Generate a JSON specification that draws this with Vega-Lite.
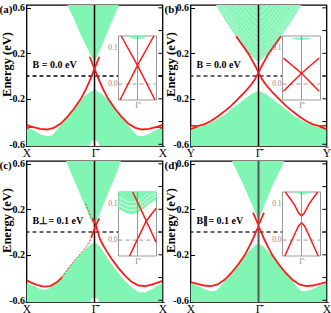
{
"$schema": "https://vega.github.io/schema/vega-lite/v6.json",
"padding": {"left": -1.5, "top": 2, "right": 0, "bottom": 0},
"config": {
  "view": {"stroke": "black", "strokeWidth": 1.3},
  "axis": {"labelFont": "Liberation Serif", "labelFontWeight": "bold", "labelFontSize": 10, "labelColor": "black", "titleFont": "Liberation Serif", "titleFontWeight": "bold", "titleFontSize": 12.5, "titleColor": "black", "tickColor": "black", "grid": false},
  "axisX": {"labelFontWeight": "normal", "labelFontSize": 11.5, "labelPadding": 1, "labelFlush": false, "labelOverlap": false, "domain": false, "ticks": false},
  "axisY": {"labelOverlap": false, "domain": false, "tickSize": -4, "labelPadding": 6}
},
"datasets": {
  "cb": [
    {"p":"a","e":0.13,"kl":0,"kr":0},{"p":"a","e":0.16,"kl":-0.035,"kr":0.03},{"p":"a","e":0.2,"kl":-0.07,"kr":0.06},{"p":"a","e":0.25,"kl":-0.11,"kr":0.095},{"p":"a","e":0.3,"kl":-0.15,"kr":0.13},{"p":"a","e":0.4,"kl":-0.23,"kr":0.2},{"p":"a","e":0.5,"kl":-0.3,"kr":0.27},{"p":"a","e":0.625,"kl":-0.4,"kr":0.36},
    {"p":"b","e":0.125,"kl":0,"kr":0},{"p":"b","e":0.15,"kl":-0.05,"kr":0.05},{"p":"b","e":0.2,"kl":-0.14,"kr":0.14},{"p":"b","e":0.25,"kl":-0.21,"kr":0.21},{"p":"b","e":0.3,"kl":-0.27,"kr":0.27},{"p":"b","e":0.4,"kl":-0.39,"kr":0.39},{"p":"b","e":0.5,"kl":-0.5,"kr":0.5},{"p":"b","e":0.625,"kl":-0.63,"kr":0.63},
    {"p":"c","e":0.05,"kl":0,"kr":0},{"p":"c","e":0.1,"kl":-0.05,"kr":0.04},{"p":"c","e":0.2,"kl":-0.12,"kr":0.1},{"p":"c","e":0.3,"kl":-0.19,"kr":0.17},{"p":"c","e":0.4,"kl":-0.26,"kr":0.24},{"p":"c","e":0.5,"kl":-0.33,"kr":0.31},{"p":"c","e":0.625,"kl":-0.42,"kr":0.39},
    {"p":"d","e":0.11,"kl":0,"kr":0},{"p":"d","e":0.15,"kl":-0.03,"kr":0.03},{"p":"d","e":0.2,"kl":-0.065,"kr":0.06},{"p":"d","e":0.3,"kl":-0.14,"kr":0.13},{"p":"d","e":0.4,"kl":-0.21,"kr":0.2},{"p":"d","e":0.5,"kl":-0.29,"kr":0.28},{"p":"d","e":0.625,"kl":-0.39,"kr":0.38}
  ],
  "cbs": [
    {"s":"w1","k":-0.6,"e":0.62},{"s":"w1","k":-0.3,"e":0.35},{"s":"w1","k":-0.12,"e":0.21},{"s":"w1","k":0,"e":0.15},{"s":"w1","k":0.12,"e":0.21},{"s":"w1","k":0.3,"e":0.35},{"s":"w1","k":0.6,"e":0.62},
    {"s":"w2","k":-0.6,"e":0.65},{"s":"w2","k":-0.3,"e":0.38},{"s":"w2","k":-0.12,"e":0.24},{"s":"w2","k":0,"e":0.18},{"s":"w2","k":0.12,"e":0.24},{"s":"w2","k":0.3,"e":0.38},{"s":"w2","k":0.6,"e":0.65},
    {"s":"w3","k":-0.6,"e":0.68},{"s":"w3","k":-0.3,"e":0.41},{"s":"w3","k":-0.12,"e":0.27},{"s":"w3","k":0,"e":0.21},{"s":"w3","k":0.12,"e":0.27},{"s":"w3","k":0.3,"e":0.41},{"s":"w3","k":0.6,"e":0.68},
    {"s":"w4","k":-0.6,"e":0.71},{"s":"w4","k":-0.3,"e":0.44},{"s":"w4","k":-0.12,"e":0.3},{"s":"w4","k":0,"e":0.24},{"s":"w4","k":0.12,"e":0.3},{"s":"w4","k":0.3,"e":0.44},{"s":"w4","k":0.6,"e":0.71},
    {"s":"w5","k":-0.6,"e":0.75},{"s":"w5","k":-0.3,"e":0.48},{"s":"w5","k":-0.12,"e":0.34},{"s":"w5","k":0,"e":0.28},{"s":"w5","k":0.12,"e":0.34},{"s":"w5","k":0.3,"e":0.48},{"s":"w5","k":0.6,"e":0.75},
    {"s":"w6","k":-0.6,"e":0.79},{"s":"w6","k":-0.3,"e":0.52},{"s":"w6","k":-0.12,"e":0.38},{"s":"w6","k":0,"e":0.32},{"s":"w6","k":0.12,"e":0.38},{"s":"w6","k":0.3,"e":0.52},{"s":"w6","k":0.6,"e":0.79},
    {"s":"w7","k":-0.6,"e":0.83},{"s":"w7","k":-0.3,"e":0.56},{"s":"w7","k":-0.12,"e":0.42},{"s":"w7","k":0,"e":0.36},{"s":"w7","k":0.12,"e":0.42},{"s":"w7","k":0.3,"e":0.56},{"s":"w7","k":0.6,"e":0.83},
    {"s":"w8","k":-0.6,"e":0.87},{"s":"w8","k":-0.3,"e":0.6},{"s":"w8","k":-0.12,"e":0.46},{"s":"w8","k":0,"e":0.4},{"s":"w8","k":0.12,"e":0.46},{"s":"w8","k":0.3,"e":0.6},{"s":"w8","k":0.6,"e":0.87},
    {"s":"w9","k":-0.6,"e":0.92},{"s":"w9","k":-0.3,"e":0.65},{"s":"w9","k":-0.12,"e":0.51},{"s":"w9","k":0,"e":0.45},{"s":"w9","k":0.12,"e":0.51},{"s":"w9","k":0.3,"e":0.65},{"s":"w9","k":0.6,"e":0.92},
    {"s":"w10","k":-0.6,"e":0.97},{"s":"w10","k":-0.3,"e":0.7},{"s":"w10","k":-0.12,"e":0.56},{"s":"w10","k":0,"e":0.5},{"s":"w10","k":0.12,"e":0.56},{"s":"w10","k":0.3,"e":0.7},{"s":"w10","k":0.6,"e":0.97},
    {"s":"w11","k":-0.6,"e":1.02},{"s":"w11","k":-0.3,"e":0.75},{"s":"w11","k":-0.12,"e":0.61},{"s":"w11","k":0,"e":0.55},{"s":"w11","k":0.12,"e":0.61},{"s":"w11","k":0.3,"e":0.75},{"s":"w11","k":0.6,"e":1.02}
  ],
  "vb": [
    {"p":"a","k":-1,"t":-0.45},{"p":"a","k":-0.9,"t":-0.475},{"p":"a","k":-0.8,"t":-0.51},{"p":"a","k":-0.7,"t":-0.53},{"p":"a","k":-0.62,"t":-0.52},{"p":"a","k":-0.55,"t":-0.47},{"p":"a","k":-0.45,"t":-0.4},{"p":"a","k":-0.35,"t":-0.33},{"p":"a","k":-0.25,"t":-0.25},{"p":"a","k":-0.15,"t":-0.18},{"p":"a","k":-0.07,"t":-0.14},{"p":"a","k":0,"t":-0.12},{"p":"a","k":0.07,"t":-0.14},{"p":"a","k":0.15,"t":-0.18},{"p":"a","k":0.25,"t":-0.25},{"p":"a","k":0.35,"t":-0.33},{"p":"a","k":0.45,"t":-0.4},{"p":"a","k":0.55,"t":-0.47},{"p":"a","k":0.62,"t":-0.52},{"p":"a","k":0.7,"t":-0.53},{"p":"a","k":0.8,"t":-0.51},{"p":"a","k":0.9,"t":-0.475},{"p":"a","k":1,"t":-0.45},
    {"p":"b","k":-1,"t":-0.45},{"p":"b","k":-0.9,"t":-0.45},{"p":"b","k":-0.8,"t":-0.435},{"p":"b","k":-0.7,"t":-0.41},{"p":"b","k":-0.6,"t":-0.375},{"p":"b","k":-0.5,"t":-0.34},{"p":"b","k":-0.4,"t":-0.29},{"p":"b","k":-0.3,"t":-0.245},{"p":"b","k":-0.2,"t":-0.2},{"p":"b","k":-0.1,"t":-0.155},{"p":"b","k":0,"t":-0.13},{"p":"b","k":0.1,"t":-0.155},{"p":"b","k":0.2,"t":-0.2},{"p":"b","k":0.3,"t":-0.245},{"p":"b","k":0.4,"t":-0.29},{"p":"b","k":0.5,"t":-0.34},{"p":"b","k":0.6,"t":-0.375},{"p":"b","k":0.7,"t":-0.41},{"p":"b","k":0.8,"t":-0.435},{"p":"b","k":0.9,"t":-0.45},{"p":"b","k":1,"t":-0.45},
    {"p":"c","k":-1,"t":-0.45},{"p":"c","k":-0.9,"t":-0.47},{"p":"c","k":-0.8,"t":-0.5},{"p":"c","k":-0.72,"t":-0.51},{"p":"c","k":-0.65,"t":-0.49},{"p":"c","k":-0.55,"t":-0.43},{"p":"c","k":-0.45,"t":-0.36},{"p":"c","k":-0.35,"t":-0.29},{"p":"c","k":-0.25,"t":-0.22},{"p":"c","k":-0.15,"t":-0.16},{"p":"c","k":-0.07,"t":-0.115},{"p":"c","k":0,"t":-0.09},{"p":"c","k":0.07,"t":-0.12},{"p":"c","k":0.15,"t":-0.19},{"p":"c","k":0.25,"t":-0.28},{"p":"c","k":0.35,"t":-0.36},{"p":"c","k":0.45,"t":-0.43},{"p":"c","k":0.55,"t":-0.49},{"p":"c","k":0.65,"t":-0.53},{"p":"c","k":0.75,"t":-0.53},{"p":"c","k":0.85,"t":-0.5},{"p":"c","k":0.93,"t":-0.47},{"p":"c","k":1,"t":-0.45},
    {"p":"d","k":-1,"t":-0.45},{"p":"d","k":-0.9,"t":-0.47},{"p":"d","k":-0.8,"t":-0.5},{"p":"d","k":-0.7,"t":-0.52},{"p":"d","k":-0.62,"t":-0.515},{"p":"d","k":-0.55,"t":-0.47},{"p":"d","k":-0.45,"t":-0.39},{"p":"d","k":-0.35,"t":-0.32},{"p":"d","k":-0.25,"t":-0.245},{"p":"d","k":-0.15,"t":-0.175},{"p":"d","k":-0.07,"t":-0.125},{"p":"d","k":0,"t":-0.1},{"p":"d","k":0.07,"t":-0.125},{"p":"d","k":0.15,"t":-0.175},{"p":"d","k":0.25,"t":-0.245},{"p":"d","k":0.35,"t":-0.32},{"p":"d","k":0.45,"t":-0.39},{"p":"d","k":0.55,"t":-0.47},{"p":"d","k":0.62,"t":-0.515},{"p":"d","k":0.7,"t":-0.52},{"p":"d","k":0.8,"t":-0.5},{"p":"d","k":0.9,"t":-0.47},{"p":"d","k":1,"t":-0.45}
  ],
  "wb": [
    {"p":"a","k":-0.08,"t":-0.615},{"p":"a","k":-0.05,"t":-0.575},{"p":"a","k":0,"t":-0.56},{"p":"a","k":0.05,"t":-0.575},{"p":"a","k":0.08,"t":-0.615},
    {"p":"c","k":-0.07,"t":-0.615},{"p":"c","k":-0.04,"t":-0.585},{"p":"c","k":0,"t":-0.575},{"p":"c","k":0.04,"t":-0.585},{"p":"c","k":0.07,"t":-0.615}
  ],
  "red": [
    {"p":"a","s":"a1","k":-1,"e":-0.43},{"p":"a","s":"a1","k":-0.9,"e":-0.45},{"p":"a","s":"a1","k":-0.8,"e":-0.465},{"p":"a","s":"a1","k":-0.7,"e":-0.47},{"p":"a","s":"a1","k":-0.6,"e":-0.455},{"p":"a","s":"a1","k":-0.5,"e":-0.42},{"p":"a","s":"a1","k":-0.4,"e":-0.36},{"p":"a","s":"a1","k":-0.3,"e":-0.285},{"p":"a","s":"a1","k":-0.2,"e":-0.2},{"p":"a","s":"a1","k":-0.13,"e":-0.12},{"p":"a","s":"a1","k":-0.07,"e":-0.04},{"p":"a","s":"a1","k":-0.03,"e":0.02},{"p":"a","s":"a1","k":0,"e":0.065},{"p":"a","s":"a1","k":0.03,"e":0.11},{"p":"a","s":"a1","k":0.07,"e":0.17},
    {"p":"a","s":"a2","k":-0.07,"e":0.17},{"p":"a","s":"a2","k":-0.03,"e":0.11},{"p":"a","s":"a2","k":0,"e":0.065},{"p":"a","s":"a2","k":0.03,"e":0.02},{"p":"a","s":"a2","k":0.07,"e":-0.04},{"p":"a","s":"a2","k":0.13,"e":-0.12},{"p":"a","s":"a2","k":0.2,"e":-0.2},{"p":"a","s":"a2","k":0.3,"e":-0.285},{"p":"a","s":"a2","k":0.4,"e":-0.36},{"p":"a","s":"a2","k":0.5,"e":-0.42},{"p":"a","s":"a2","k":0.6,"e":-0.455},{"p":"a","s":"a2","k":0.7,"e":-0.47},{"p":"a","s":"a2","k":0.8,"e":-0.465},{"p":"a","s":"a2","k":0.9,"e":-0.45},{"p":"a","s":"a2","k":1,"e":-0.43},
    {"p":"a","s":"a3","k":-1,"e":-0.46},{"p":"a","s":"a3","k":-0.95,"e":-0.447},{"p":"a","s":"a3","k":-0.9,"e":-0.45},
    {"p":"a","s":"a4","k":0.9,"e":-0.45},{"p":"a","s":"a4","k":0.95,"e":-0.447},{"p":"a","s":"a4","k":1,"e":-0.46},
    {"p":"b","s":"b1","k":-1,"e":-0.435},{"p":"b","s":"b1","k":-0.9,"e":-0.44},{"p":"b","s":"b1","k":-0.8,"e":-0.425},{"p":"b","s":"b1","k":-0.7,"e":-0.395},{"p":"b","s":"b1","k":-0.6,"e":-0.355},{"p":"b","s":"b1","k":-0.5,"e":-0.31},{"p":"b","s":"b1","k":-0.4,"e":-0.26},{"p":"b","s":"b1","k":-0.3,"e":-0.2},{"p":"b","s":"b1","k":-0.2,"e":-0.14},{"p":"b","s":"b1","k":-0.1,"e":-0.07},{"p":"b","s":"b1","k":-0.05,"e":-0.025},{"p":"b","s":"b1","k":0,"e":0.03},{"p":"b","s":"b1","k":0.04,"e":0.08},{"p":"b","s":"b1","k":0.08,"e":0.125},{"p":"b","s":"b1","k":0.14,"e":0.19},{"p":"b","s":"b1","k":0.21,"e":0.25},{"p":"b","s":"b1","k":0.27,"e":0.3},{"p":"b","s":"b1","k":0.33,"e":0.35},
    {"p":"b","s":"b2","k":-0.33,"e":0.35},{"p":"b","s":"b2","k":-0.27,"e":0.3},{"p":"b","s":"b2","k":-0.21,"e":0.25},{"p":"b","s":"b2","k":-0.14,"e":0.19},{"p":"b","s":"b2","k":-0.08,"e":0.125},{"p":"b","s":"b2","k":-0.04,"e":0.08},{"p":"b","s":"b2","k":0,"e":0.03},{"p":"b","s":"b2","k":0.05,"e":-0.025},{"p":"b","s":"b2","k":0.1,"e":-0.07},{"p":"b","s":"b2","k":0.2,"e":-0.14},{"p":"b","s":"b2","k":0.3,"e":-0.2},{"p":"b","s":"b2","k":0.4,"e":-0.26},{"p":"b","s":"b2","k":0.5,"e":-0.31},{"p":"b","s":"b2","k":0.6,"e":-0.355},{"p":"b","s":"b2","k":0.7,"e":-0.395},{"p":"b","s":"b2","k":0.8,"e":-0.425},{"p":"b","s":"b2","k":0.9,"e":-0.44},{"p":"b","s":"b2","k":1,"e":-0.435},
    {"p":"b","s":"b3","k":-1,"e":-0.47},{"p":"b","s":"b3","k":-0.95,"e":-0.455},{"p":"b","s":"b3","k":-0.9,"e":-0.445},
    {"p":"b","s":"b4","k":0.9,"e":-0.445},{"p":"b","s":"b4","k":0.95,"e":-0.455},{"p":"b","s":"b4","k":1,"e":-0.47},
    {"p":"c","s":"c1","k":-0.03,"e":0.12},{"p":"c","s":"c1","k":0,"e":0.09},{"p":"c","s":"c1","k":0.02,"e":0.06},{"p":"c","s":"c1","k":0.05,"e":0.0},{"p":"c","s":"c1","k":0.08,"e":-0.06},{"p":"c","s":"c1","k":0.12,"e":-0.11},{"p":"c","s":"c1","k":0.18,"e":-0.17},{"p":"c","s":"c1","k":0.25,"e":-0.235},{"p":"c","s":"c1","k":0.35,"e":-0.315},{"p":"c","s":"c1","k":0.45,"e":-0.385},{"p":"c","s":"c1","k":0.55,"e":-0.44},{"p":"c","s":"c1","k":0.65,"e":-0.47},{"p":"c","s":"c1","k":0.75,"e":-0.475},{"p":"c","s":"c1","k":0.85,"e":-0.46},{"p":"c","s":"c1","k":0.93,"e":-0.445},{"p":"c","s":"c1","k":1,"e":-0.43},
    {"p":"c","s":"c2","k":-0.05,"e":-0.05},{"p":"c","s":"c2","k":-0.03,"e":-0.02},{"p":"c","s":"c2","k":0,"e":0.03},{"p":"c","s":"c2","k":0.02,"e":0.06},{"p":"c","s":"c2","k":0.045,"e":0.09},{"p":"c","s":"c2","k":0.07,"e":0.12},
    {"p":"c","s":"c3","k":-1,"e":-0.425},{"p":"c","s":"c3","k":-0.93,"e":-0.445},{"p":"c","s":"c3","k":-0.85,"e":-0.465},{"p":"c","s":"c3","k":-0.75,"e":-0.48},{"p":"c","s":"c3","k":-0.65,"e":-0.475},{"p":"c","s":"c3","k":-0.55,"e":-0.44},{"p":"c","s":"c3","k":-0.48,"e":-0.4},
    {"p":"d","s":"d1","k":-1,"e":-0.44},{"p":"d","s":"d1","k":-0.9,"e":-0.455},{"p":"d","s":"d1","k":-0.8,"e":-0.47},{"p":"d","s":"d1","k":-0.7,"e":-0.475},{"p":"d","s":"d1","k":-0.6,"e":-0.46},{"p":"d","s":"d1","k":-0.5,"e":-0.42},{"p":"d","s":"d1","k":-0.4,"e":-0.36},{"p":"d","s":"d1","k":-0.3,"e":-0.285},{"p":"d","s":"d1","k":-0.2,"e":-0.2},{"p":"d","s":"d1","k":-0.13,"e":-0.12},{"p":"d","s":"d1","k":-0.07,"e":-0.045},{"p":"d","s":"d1","k":-0.03,"e":0.015},{"p":"d","s":"d1","k":0,"e":0.045},{"p":"d","s":"d1","k":0.03,"e":0.015},{"p":"d","s":"d1","k":0.07,"e":-0.045},{"p":"d","s":"d1","k":0.13,"e":-0.12},{"p":"d","s":"d1","k":0.2,"e":-0.2},{"p":"d","s":"d1","k":0.3,"e":-0.285},{"p":"d","s":"d1","k":0.4,"e":-0.36},{"p":"d","s":"d1","k":0.5,"e":-0.42},{"p":"d","s":"d1","k":0.6,"e":-0.46},{"p":"d","s":"d1","k":0.7,"e":-0.475},{"p":"d","s":"d1","k":0.8,"e":-0.47},{"p":"d","s":"d1","k":0.9,"e":-0.455},{"p":"d","s":"d1","k":1,"e":-0.44},
    {"p":"d","s":"d2","k":-0.08,"e":0.17},{"p":"d","s":"d2","k":-0.05,"e":0.13},{"p":"d","s":"d2","k":-0.02,"e":0.085},{"p":"d","s":"d2","k":0,"e":0.07},{"p":"d","s":"d2","k":0.02,"e":0.085},{"p":"d","s":"d2","k":0.05,"e":0.13},{"p":"d","s":"d2","k":0.08,"e":0.17}
  ],
  "redthin": [
    {"p":"c","s":"t1","k":-0.48,"e":-0.4},{"p":"c","s":"t1","k":-0.35,"e":-0.29},{"p":"c","s":"t1","k":-0.25,"e":-0.22},{"p":"c","s":"t1","k":-0.15,"e":-0.15},{"p":"c","s":"t1","k":-0.08,"e":-0.09},{"p":"c","s":"t1","k":-0.05,"e":-0.05},
    {"p":"c","s":"t2","k":-0.13,"e":0.25},{"p":"c","s":"t2","k":-0.09,"e":0.19},{"p":"c","s":"t2","k":-0.05,"e":0.13},{"p":"c","s":"t2","k":-0.02,"e":0.09}
  ],
  "ired": [
    {"p":"a","s":"1","k":-0.86,"e":0.133},{"p":"a","s":"1","k":0,"e":0.052},{"p":"a","s":"1","k":0.92,"e":-0.044},
    {"p":"a","s":"2","k":-0.92,"e":-0.044},{"p":"a","s":"2","k":0,"e":0.052},{"p":"a","s":"2","k":0.86,"e":0.133},
    {"p":"b","s":"1","k":-0.95,"e":0.072},{"p":"b","s":"1","k":0,"e":0.03},{"p":"b","s":"1","k":0.93,"e":-0.02},
    {"p":"b","s":"2","k":-0.95,"e":-0.02},{"p":"b","s":"2","k":0,"e":0.03},{"p":"b","s":"2","k":0.93,"e":0.072},
    {"p":"c","s":"1","k":-0.25,"e":0.133},{"p":"c","s":"1","k":0.46,"e":0.053},{"p":"c","s":"1","k":0.98,"e":-0.006},
    {"p":"c","s":"2","k":-0.42,"e":-0.044},{"p":"c","s":"2","k":-0.33,"e":-0.034},{"p":"c","s":"2","k":0.46,"e":0.053},{"p":"c","s":"2","k":0.98,"e":0.088},
    {"p":"d","s":"1","k":-0.85,"e":0.133},{"p":"d","s":"1","k":-0.4,"e":0.1},{"p":"d","s":"1","k":-0.15,"e":0.075},{"p":"d","s":"1","k":0,"e":0.067},{"p":"d","s":"1","k":0.15,"e":0.075},{"p":"d","s":"1","k":0.4,"e":0.1},{"p":"d","s":"1","k":0.85,"e":0.133},
    {"p":"d","s":"2","k":-0.88,"e":-0.044},{"p":"d","s":"2","k":-0.4,"e":0.012},{"p":"d","s":"2","k":-0.15,"e":0.04},{"p":"d","s":"2","k":0,"e":0.048},{"p":"d","s":"2","k":0.15,"e":0.04},{"p":"d","s":"2","k":0.4,"e":0.012},{"p":"d","s":"2","k":0.88,"e":-0.044}
  ],
  "igreen": [
    {"p":"a","k":-0.55,"t":0.133,"b":0.133},{"p":"a","k":-0.3,"t":0.133,"b":0.127},{"p":"a","k":0,"t":0.133,"b":0.124},{"p":"a","k":0.3,"t":0.133,"b":0.127},{"p":"a","k":0.5,"t":0.133,"b":0.133},
    {"p":"b","k":-0.55,"t":0.126,"b":0.126},{"p":"b","k":-0.3,"t":0.128,"b":0.123},{"p":"b","k":0,"t":0.129,"b":0.122},{"p":"b","k":0.3,"t":0.128,"b":0.123},{"p":"b","k":0.5,"t":0.126,"b":0.126},
    {"p":"c","k":-1,"t":0.133,"b":0.086},{"p":"c","k":-0.6,"t":0.133,"b":0.075},{"p":"c","k":-0.3,"t":0.133,"b":0.072},{"p":"c","k":0,"t":0.133,"b":0.075},{"p":"c","k":0.3,"t":0.133,"b":0.085},{"p":"c","k":0.6,"t":0.133,"b":0.1},{"p":"c","k":1,"t":0.133,"b":0.112},
    {"p":"d","k":-0.35,"t":0.133,"b":0.133},{"p":"d","k":-0.1,"t":0.133,"b":0.127},{"p":"d","k":0.1,"t":0.133,"b":0.126},{"p":"d","k":0.5,"t":0.133,"b":0.133}
  ],
  "iwhite": [
    {"s":"1","k":-1,"e":0.096},{"s":"1","k":-0.6,"e":0.085},{"s":"1","k":-0.3,"e":0.082},{"s":"1","k":0,"e":0.085},{"s":"1","k":0.3,"e":0.095},{"s":"1","k":0.6,"e":0.11},{"s":"1","k":1,"e":0.122},
    {"s":"2","k":-1,"e":0.107},{"s":"2","k":-0.6,"e":0.096},{"s":"2","k":-0.3,"e":0.093},{"s":"2","k":0,"e":0.096},{"s":"2","k":0.3,"e":0.106},{"s":"2","k":0.6,"e":0.121},{"s":"2","k":1,"e":0.13},
    {"s":"3","k":-1,"e":0.119},{"s":"3","k":-0.6,"e":0.108},{"s":"3","k":-0.3,"e":0.105},{"s":"3","k":0,"e":0.108},{"s":"3","k":0.3,"e":0.118},{"s":"3","k":0.55,"e":0.13}
  ],
  "yt": [{"v":-0.6},{"v":-0.4},{"v":-0.2},{"v":0},{"v":0.2},{"v":0.4},{"v":0.6}],
  "txt": [
    {"p":"a","tag":"(a)","lab":"B = 0.0 eV"},
    {"p":"b","tag":"(b)","lab":"B = 0.0 eV"},
    {"p":"c","tag":"(c)","lab":"B\u22a5= 0.1 eV"},
    {"p":"d","tag":"(d)","lab":"B\u2225= 0.1 eV"}
  ],
  "itick": [{"v":0.1,"t":"0.1"},{"v":0,"t":"0.0"}]
},
"columns": 2,
"spacing": {"row": 15, "column": 28},
"bounds": "flush",
"concat": [
 {"width":136,"height":141,"resolve":{"scale":{"x":"independent","y":"independent"}},
  "layer":[
   {"layer":[
    {"data":{"name":"vb"},"transform":[{"filter":"datum.p=='a'"}],"mark":{"type":"area","color":"#80f5b4","clip":true},
     "encoding":{"x":{"field":"k","type":"quantitative","scale":{"domain":[-1,1],"nice":false,"zero":false},"axis":{"title":null,"values":[-1,0,1],"labelExpr":"datum.value==0 ? '\u0393\u0304' : 'X\u0304'"}},
      "y":{"field":"t","type":"quantitative","scale":{"domain":[-0.615,0.625],"nice":false,"zero":false},"axis":{"title":"Energy (eV)","titleX":-16.5,"titleY":59,"titleBaseline":"alphabetic","values":[-0.6,-0.4,-0.2,0,0.2,0.4,0.6],"labelExpr":"replace(format(datum.value,'.1f'),'\u2212','-')"}},
      "y2":{"datum":-0.615}}},
    {"data":{"name":"wb"},"transform":[{"filter":"datum.p=='a'"}],"mark":{"type":"area","color":"white","clip":true},"encoding":{"x":{"field":"k","type":"quantitative"},"y":{"field":"t","type":"quantitative"},"y2":{"datum":-0.615}}},
    {"data":{"name":"cb"},"transform":[{"filter":"datum.p=='a'"}],"mark":{"type":"area","orient":"horizontal","color":"#80f5b4","clip":true},"encoding":{"y":{"field":"e","type":"quantitative"},"x":{"field":"kl","type":"quantitative"},"x2":{"field":"kr"}}},
    {"data":{"name":"yt"},"mark":{"type":"rule","color":"black","strokeWidth":1},"encoding":{"x":{"datum":0.94},"x2":{"datum":1},"y":{"field":"v","type":"quantitative"}}},
    {"data":{"values":[{}]},"mark":{"type":"rule","strokeDash":[4,3],"strokeWidth":1.5,"color":"black"},"encoding":{"y":{"datum":0}}},
    {"data":{"values":[{}]},"mark":{"type":"rule","strokeWidth":1.5,"color":"black"},"encoding":{"x":{"datum":0}}},
    {"data":{"name":"red"},"transform":[{"filter":"datum.p=='a'"}],"mark":{"type":"line","color":"#ff1a1a","strokeWidth":1.8,"clip":true},"encoding":{"x":{"field":"k","type":"quantitative"},"y":{"field":"e","type":"quantitative"},"detail":{"field":"s"}}},
    {"data":{"name":"txt"},"transform":[{"filter":"datum.p=='a'"}],"mark":{"type":"text","align":"left","baseline":"middle","dx":-27,"dy":5,"font":"Liberation Serif","fontWeight":"bold","fontSize":11},"encoding":{"x":{"datum":-1},"y":{"datum":0.625},"text":{"field":"tag"}}},
    {"data":{"name":"txt"},"transform":[{"filter":"datum.p=='a'"}],"mark":{"type":"text","align":"left","baseline":"middle","font":"Liberation Serif","fontWeight":"bold","fontSize":10},"encoding":{"x":{"datum":-0.91},"y":{"datum":0.095},"text":{"field":"lab"}}}
   ]},
   {"layer":[
    {"data":{"values":[{}]},"mark":{"type":"rect","fill":"white","stroke":"#999999","strokeWidth":1},"encoding":{"x":{"datum":-1,"type":"quantitative","scale":{"domain":[-1,1],"range":[92,130],"nice":false,"zero":false},"axis":null},"x2":{"datum":1},"y":{"datum":-0.044,"type":"quantitative","scale":{"domain":[-0.044,0.133],"range":[95,31],"nice":false,"zero":false},"axis":null},"y2":{"datum":0.133}}},
    {"data":{"name":"igreen"},"transform":[{"filter":"datum.p=='a'"}],"mark":{"type":"area","color":"#80f5b4"},"encoding":{"x":{"field":"k","type":"quantitative","axis":null},"y":{"field":"t","type":"quantitative","axis":null},"y2":{"field":"b"}}},
    {"data":{"values":[{}]},"mark":{"type":"rule","color":"#999999","strokeWidth":1},"encoding":{"x":{"datum":0,"axis":null},"y":{"datum":-0.044,"axis":null},"y2":{"datum":0.133}}},
    {"data":{"values":[{}]},"mark":{"type":"rule","color":"#999999","strokeWidth":1,"strokeDash":[4,3]},"encoding":{"y":{"datum":0,"axis":null},"x":{"datum":-1,"axis":null},"x2":{"datum":1}}},
    {"data":{"name":"ired"},"transform":[{"filter":"datum.p=='a'"}],"mark":{"type":"line","color":"#ff1a1a","strokeWidth":1.5},"encoding":{"x":{"field":"k","type":"quantitative","axis":null},"y":{"field":"e","type":"quantitative","axis":null},"detail":{"field":"s"}}},
    {"data":{"name":"itick"},"mark":{"type":"text","align":"right","baseline":"middle","dx":-1,"font":"Liberation Serif","fontSize":7.5,"color":"#888888"},"encoding":{"x":{"datum":-1,"axis":null},"y":{"field":"v","type":"quantitative","axis":null},"text":{"field":"t"}}},
    {"data":{"values":[{}]},"mark":{"type":"text","baseline":"top","dy":2,"font":"Liberation Serif","fontSize":8,"color":"#888888","text":"\u0393\u0304"},"encoding":{"x":{"datum":0,"axis":null},"y":{"datum":-0.044,"axis":null}}}
   ]}
  ]},
 {"width":136,"height":141,"resolve":{"scale":{"x":"independent","y":"independent"}},
  "layer":[
   {"layer":[
    {"data":{"name":"vb"},"transform":[{"filter":"datum.p=='b'"}],"mark":{"type":"area","color":"#80f5b4","clip":true},
     "encoding":{"x":{"field":"k","type":"quantitative","scale":{"domain":[-1,1],"nice":false,"zero":false},"axis":{"title":null,"values":[-1,0,1],"labelExpr":"datum.value==0 ? '\u0393\u0304' : 'Y\u0304'"}},
      "y":{"field":"t","type":"quantitative","scale":{"domain":[-0.615,0.625],"nice":false,"zero":false},"axis":{"title":"Energy (eV)","titleX":-16.5,"titleY":59,"titleBaseline":"alphabetic","values":[-0.6,-0.4,-0.2,0,0.2,0.4,0.6],"labelExpr":"replace(format(datum.value,'.1f'),'\u2212','-')"}},
      "y2":{"datum":-0.615}}},
    {"data":{"name":"cb"},"transform":[{"filter":"datum.p=='b'"}],"mark":{"type":"area","orient":"horizontal","color":"#80f5b4","clip":true},"encoding":{"y":{"field":"e","type":"quantitative"},"x":{"field":"kl","type":"quantitative"},"x2":{"field":"kr"}}},
    {"data":{"name":"cbs"},"mark":{"type":"line","color":"white","strokeWidth":0.6,"opacity":0.75,"clip":true},"encoding":{"x":{"field":"k","type":"quantitative"},"y":{"field":"e","type":"quantitative"},"detail":{"field":"s"}}},
    {"data":{"name":"yt"},"mark":{"type":"rule","color":"black","strokeWidth":1},"encoding":{"x":{"datum":0.94},"x2":{"datum":1},"y":{"field":"v","type":"quantitative"}}},
    {"data":{"values":[{}]},"mark":{"type":"rule","strokeDash":[4,3],"strokeWidth":1.5,"color":"#333333"},"encoding":{"y":{"datum":0}}},
    {"data":{"values":[{}]},"mark":{"type":"rule","strokeWidth":1.5,"color":"black"},"encoding":{"x":{"datum":0}}},
    {"data":{"name":"red"},"transform":[{"filter":"datum.p=='b'"}],"mark":{"type":"line","color":"#ff1a1a","strokeWidth":1.8,"clip":true},"encoding":{"x":{"field":"k","type":"quantitative"},"y":{"field":"e","type":"quantitative"},"detail":{"field":"s"}}},
    {"data":{"name":"txt"},"transform":[{"filter":"datum.p=='b'"}],"mark":{"type":"text","align":"left","baseline":"middle","dx":-26,"dy":5,"font":"Liberation Serif","fontWeight":"bold","fontSize":11},"encoding":{"x":{"datum":-1},"y":{"datum":0.625},"text":{"field":"tag"}}},
    {"data":{"name":"txt"},"transform":[{"filter":"datum.p=='b'"}],"mark":{"type":"text","align":"left","baseline":"middle","font":"Liberation Serif","fontWeight":"bold","fontSize":10},"encoding":{"x":{"datum":-0.91},"y":{"datum":0.095},"text":{"field":"lab"}}}
   ]},
   {"layer":[
    {"data":{"values":[{}]},"mark":{"type":"rect","fill":"white","stroke":"#999999","strokeWidth":1},"encoding":{"x":{"datum":-1,"type":"quantitative","scale":{"domain":[-1,1],"range":[92,130],"nice":false,"zero":false},"axis":null},"x2":{"datum":1},"y":{"datum":-0.044,"type":"quantitative","scale":{"domain":[-0.044,0.133],"range":[95,31],"nice":false,"zero":false},"axis":null},"y2":{"datum":0.133}}},
    {"data":{"name":"igreen"},"transform":[{"filter":"datum.p=='b'"}],"mark":{"type":"area","color":"#80f5b4"},"encoding":{"x":{"field":"k","type":"quantitative","axis":null},"y":{"field":"t","type":"quantitative","axis":null},"y2":{"field":"b"}}},
    {"data":{"values":[{}]},"mark":{"type":"rule","color":"#999999","strokeWidth":1},"encoding":{"x":{"datum":0,"axis":null},"y":{"datum":-0.044,"axis":null},"y2":{"datum":0.133}}},
    {"data":{"values":[{}]},"mark":{"type":"rule","color":"#999999","strokeWidth":1,"strokeDash":[4,3]},"encoding":{"y":{"datum":0,"axis":null},"x":{"datum":-1,"axis":null},"x2":{"datum":1}}},
    {"data":{"name":"ired"},"transform":[{"filter":"datum.p=='b'"}],"mark":{"type":"line","color":"#ff1a1a","strokeWidth":1.5},"encoding":{"x":{"field":"k","type":"quantitative","axis":null},"y":{"field":"e","type":"quantitative","axis":null},"detail":{"field":"s"}}},
    {"data":{"name":"itick"},"mark":{"type":"text","align":"right","baseline":"middle","dx":-1,"font":"Liberation Serif","fontSize":7.5,"color":"#888888"},"encoding":{"x":{"datum":-1,"axis":null},"y":{"field":"v","type":"quantitative","axis":null},"text":{"field":"t"}}},
    {"data":{"values":[{}]},"mark":{"type":"text","baseline":"top","dy":2,"font":"Liberation Serif","fontSize":8,"color":"#888888","text":"\u0393\u0304"},"encoding":{"x":{"datum":0,"axis":null},"y":{"datum":-0.044,"axis":null}}}
   ]}
  ]},
 {"width":136,"height":141,"resolve":{"scale":{"x":"independent","y":"independent"}},
  "layer":[
   {"layer":[
    {"data":{"name":"vb"},"transform":[{"filter":"datum.p=='c'"}],"mark":{"type":"area","color":"#80f5b4","clip":true},
     "encoding":{"x":{"field":"k","type":"quantitative","scale":{"domain":[-1,1],"nice":false,"zero":false},"axis":{"title":null,"values":[-1,0,1],"labelExpr":"datum.value==0 ? '\u0393\u0304' : 'X\u0304'"}},
      "y":{"field":"t","type":"quantitative","scale":{"domain":[-0.615,0.625],"nice":false,"zero":false},"axis":{"title":"Energy (eV)","titleX":-16.5,"titleY":59,"titleBaseline":"alphabetic","values":[-0.6,-0.4,-0.2,0,0.2,0.4,0.6],"labelExpr":"replace(format(datum.value,'.1f'),'\u2212','-')"}},
      "y2":{"datum":-0.615}}},
    {"data":{"name":"wb"},"transform":[{"filter":"datum.p=='c'"}],"mark":{"type":"area","color":"white","clip":true},"encoding":{"x":{"field":"k","type":"quantitative"},"y":{"field":"t","type":"quantitative"},"y2":{"datum":-0.615}}},
    {"data":{"name":"cb"},"transform":[{"filter":"datum.p=='c'"}],"mark":{"type":"area","orient":"horizontal","color":"#80f5b4","clip":true},"encoding":{"y":{"field":"e","type":"quantitative"},"x":{"field":"kl","type":"quantitative"},"x2":{"field":"kr"}}},
    {"data":{"name":"yt"},"mark":{"type":"rule","color":"black","strokeWidth":1},"encoding":{"x":{"datum":0.94},"x2":{"datum":1},"y":{"field":"v","type":"quantitative"}}},
    {"data":{"values":[{}]},"mark":{"type":"rule","strokeDash":[4,3],"strokeWidth":1.5,"color":"#333333"},"encoding":{"y":{"datum":0}}},
    {"data":{"values":[{}]},"mark":{"type":"rule","strokeWidth":1.5,"color":"black"},"encoding":{"x":{"datum":0}}},
    {"data":{"name":"redthin"},"transform":[{"filter":"datum.p=='c'"}],"mark":{"type":"line","color":"#ff3030","strokeWidth":1,"strokeDash":[2,1.5],"clip":true},"encoding":{"x":{"field":"k","type":"quantitative"},"y":{"field":"e","type":"quantitative"},"detail":{"field":"s"}}},
    {"data":{"name":"red"},"transform":[{"filter":"datum.p=='c'"}],"mark":{"type":"line","color":"#ff1a1a","strokeWidth":1.8,"clip":true},"encoding":{"x":{"field":"k","type":"quantitative"},"y":{"field":"e","type":"quantitative"},"detail":{"field":"s"}}},
    {"data":{"name":"txt"},"transform":[{"filter":"datum.p=='c'"}],"mark":{"type":"text","align":"left","baseline":"middle","dx":-27,"dy":5,"font":"Liberation Serif","fontWeight":"bold","fontSize":11},"encoding":{"x":{"datum":-1},"y":{"datum":0.625},"text":{"field":"tag"}}},
    {"data":{"name":"txt"},"transform":[{"filter":"datum.p=='c'"}],"mark":{"type":"text","align":"left","baseline":"middle","font":"Liberation Serif","fontWeight":"bold","fontSize":10},"encoding":{"x":{"datum":-0.91},"y":{"datum":0.095},"text":{"field":"lab"}}}
   ]},
   {"layer":[
    {"data":{"values":[{}]},"mark":{"type":"rect","fill":"white","stroke":"#999999","strokeWidth":1},"encoding":{"x":{"datum":-1,"type":"quantitative","scale":{"domain":[-1,1],"range":[92,130],"nice":false,"zero":false},"axis":null},"x2":{"datum":1},"y":{"datum":-0.044,"type":"quantitative","scale":{"domain":[-0.044,0.133],"range":[95,31],"nice":false,"zero":false},"axis":null},"y2":{"datum":0.133}}},
    {"data":{"name":"igreen"},"transform":[{"filter":"datum.p=='c'"}],"mark":{"type":"area","color":"#80f5b4"},"encoding":{"x":{"field":"k","type":"quantitative","axis":null},"y":{"field":"t","type":"quantitative","axis":null},"y2":{"field":"b"}}},
    {"data":{"name":"iwhite"},"mark":{"type":"line","color":"white","strokeWidth":0.8},"encoding":{"x":{"field":"k","type":"quantitative","axis":null},"y":{"field":"e","type":"quantitative","axis":null},"detail":{"field":"s"}}},
    {"data":{"values":[{}]},"mark":{"type":"rule","color":"#999999","strokeWidth":1},"encoding":{"x":{"datum":0,"axis":null},"y":{"datum":-0.044,"axis":null},"y2":{"datum":0.133}}},
    {"data":{"values":[{}]},"mark":{"type":"rule","color":"#999999","strokeWidth":1,"strokeDash":[4,3]},"encoding":{"y":{"datum":0,"axis":null},"x":{"datum":-1,"axis":null},"x2":{"datum":1}}},
    {"data":{"name":"ired"},"transform":[{"filter":"datum.p=='c'"}],"mark":{"type":"line","color":"#ff1a1a","strokeWidth":1.5},"encoding":{"x":{"field":"k","type":"quantitative","axis":null},"y":{"field":"e","type":"quantitative","axis":null},"detail":{"field":"s"}}},
    {"data":{"name":"itick"},"mark":{"type":"text","align":"right","baseline":"middle","dx":-1,"font":"Liberation Serif","fontSize":7.5,"color":"#888888"},"encoding":{"x":{"datum":-1,"axis":null},"y":{"field":"v","type":"quantitative","axis":null},"text":{"field":"t"}}},
    {"data":{"values":[{}]},"mark":{"type":"text","baseline":"top","dy":2,"font":"Liberation Serif","fontSize":8,"color":"#888888","text":"\u0393\u0304"},"encoding":{"x":{"datum":0,"axis":null},"y":{"datum":-0.044,"axis":null}}}
   ]}
  ]},
 {"width":136,"height":141,"resolve":{"scale":{"x":"independent","y":"independent"}},
  "layer":[
   {"layer":[
    {"data":{"name":"vb"},"transform":[{"filter":"datum.p=='d'"}],"mark":{"type":"area","color":"#80f5b4","clip":true},
     "encoding":{"x":{"field":"k","type":"quantitative","scale":{"domain":[-1,1],"nice":false,"zero":false},"axis":{"title":null,"values":[-1,0,1],"labelExpr":"datum.value==0 ? '\u0393\u0304' : 'X\u0304'"}},
      "y":{"field":"t","type":"quantitative","scale":{"domain":[-0.615,0.625],"nice":false,"zero":false},"axis":{"title":"Energy (eV)","titleX":-16.5,"titleY":59,"titleBaseline":"alphabetic","values":[-0.6,-0.4,-0.2,0,0.2,0.4,0.6],"labelExpr":"replace(format(datum.value,'.1f'),'\u2212','-')"}},
      "y2":{"datum":-0.615}}},
    {"data":{"name":"cb"},"transform":[{"filter":"datum.p=='d'"}],"mark":{"type":"area","orient":"horizontal","color":"#80f5b4","clip":true},"encoding":{"y":{"field":"e","type":"quantitative"},"x":{"field":"kl","type":"quantitative"},"x2":{"field":"kr"}}},
    {"data":{"name":"yt"},"mark":{"type":"rule","color":"black","strokeWidth":1},"encoding":{"x":{"datum":0.94},"x2":{"datum":1},"y":{"field":"v","type":"quantitative"}}},
    {"data":{"values":[{}]},"mark":{"type":"rule","strokeDash":[4,3],"strokeWidth":1.5,"color":"#333333"},"encoding":{"y":{"datum":0}}},
    {"data":{"values":[{}]},"mark":{"type":"rule","strokeWidth":2,"color":"#555555"},"encoding":{"x":{"datum":0}}},
    {"data":{"name":"red"},"transform":[{"filter":"datum.p=='d'"}],"mark":{"type":"line","color":"#ff1a1a","strokeWidth":1.8,"clip":true},"encoding":{"x":{"field":"k","type":"quantitative"},"y":{"field":"e","type":"quantitative"},"detail":{"field":"s"}}},
    {"data":{"name":"txt"},"transform":[{"filter":"datum.p=='d'"}],"mark":{"type":"text","align":"left","baseline":"middle","dx":-26,"dy":5,"font":"Liberation Serif","fontWeight":"bold","fontSize":11},"encoding":{"x":{"datum":-1},"y":{"datum":0.625},"text":{"field":"tag"}}},
    {"data":{"name":"txt"},"transform":[{"filter":"datum.p=='d'"}],"mark":{"type":"text","align":"left","baseline":"middle","font":"Liberation Serif","fontWeight":"bold","fontSize":10},"encoding":{"x":{"datum":-0.91},"y":{"datum":0.095},"text":{"field":"lab"}}}
   ]},
   {"layer":[
    {"data":{"values":[{}]},"mark":{"type":"rect","fill":"white","stroke":"#999999","strokeWidth":1},"encoding":{"x":{"datum":-1,"type":"quantitative","scale":{"domain":[-1,1],"range":[92,130],"nice":false,"zero":false},"axis":null},"x2":{"datum":1},"y":{"datum":-0.044,"type":"quantitative","scale":{"domain":[-0.044,0.133],"range":[95,31],"nice":false,"zero":false},"axis":null},"y2":{"datum":0.133}}},
    {"data":{"name":"igreen"},"transform":[{"filter":"datum.p=='d'"}],"mark":{"type":"area","color":"#80f5b4"},"encoding":{"x":{"field":"k","type":"quantitative","axis":null},"y":{"field":"t","type":"quantitative","axis":null},"y2":{"field":"b"}}},
    {"data":{"values":[{}]},"mark":{"type":"rule","color":"#999999","strokeWidth":1},"encoding":{"x":{"datum":0,"axis":null},"y":{"datum":-0.044,"axis":null},"y2":{"datum":0.133}}},
    {"data":{"values":[{}]},"mark":{"type":"rule","color":"#999999","strokeWidth":1,"strokeDash":[4,3]},"encoding":{"y":{"datum":0,"axis":null},"x":{"datum":-1,"axis":null},"x2":{"datum":1}}},
    {"data":{"name":"ired"},"transform":[{"filter":"datum.p=='d'"}],"mark":{"type":"line","color":"#ff1a1a","strokeWidth":1.5},"encoding":{"x":{"field":"k","type":"quantitative","axis":null},"y":{"field":"e","type":"quantitative","axis":null},"detail":{"field":"s"}}},
    {"data":{"name":"itick"},"mark":{"type":"text","align":"right","baseline":"middle","dx":-1,"font":"Liberation Serif","fontSize":7.5,"color":"#888888"},"encoding":{"x":{"datum":-1,"axis":null},"y":{"field":"v","type":"quantitative","axis":null},"text":{"field":"t"}}},
    {"data":{"values":[{}]},"mark":{"type":"text","baseline":"top","dy":2,"font":"Liberation Serif","fontSize":8,"color":"#888888","text":"\u0393\u0304"},"encoding":{"x":{"datum":0,"axis":null},"y":{"datum":-0.044,"axis":null}}}
   ]}
  ]}
]
}
